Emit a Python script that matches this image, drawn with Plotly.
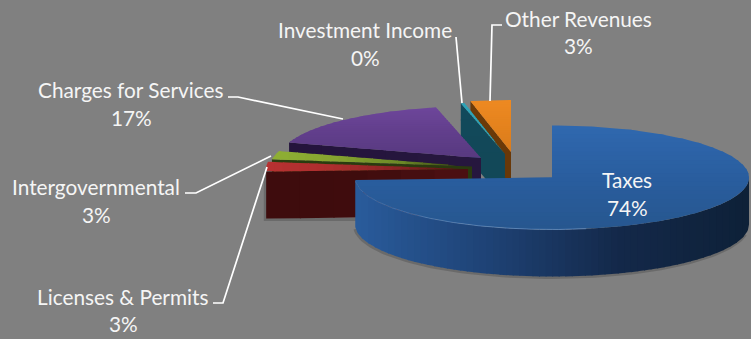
import numpy as np
import plotly.graph_objects as go

# Revenue shares in percent
categories = ["Taxes", "Licenses & Permits", "Intergovernmental",
              "Charges for Services", "Investment Income", "Other Revenues"]
shares = [74.2, 3.0, 2.6, 16.6, 0.3, 3.3]

# Pixel frame and pie proportions
WIDTH, HEIGHT = 751, 339
RY, DEPTH = 52, 47

# Horizontal radius of each slice
radii = {
    "Taxes": 197,
    "Licenses & Permits": 202,
    "Intergovernmental": 202,
    "Charges for Services": 201,
    "Investment Income": 197,
    "Other Revenues": 197,
}

# Exploded position of each slice's tip
tips = {
    "Taxes": (552, 177.5),
    "Licenses & Permits": (468, 169),
    "Intergovernmental": (472, 166.5),
    "Charges for Services": (481, 158),
    "Investment Income": (505, 154),
    "Other Revenues": (511, 152),
}

# Colour ramps: top face (axis, stops), cut face, outer wall
styles = {
    "Taxes": dict(top=("y", 125, 230, ["#3069b0", "#2a5e9f", "#27578f"]),
                  cut=("x", 0, 1, ["#000000", "#000000"]),
                  wall=("x", 355, 751, ["#2a5c9c", "#1f4376", "#14294a", "#0e2138"])),
    "Licenses & Permits": dict(top=("x", 267, 466, ["#b83232", "#ad2e2e", "#8a2424", "#4f1514"]),
                               cut=("x", 267, 470, ["#3e0c0d", "#400d0e", "#4e1013"]),
                               wall=("x", 260, 275, ["#3e0c0d", "#3e0c0d"])),
    "Intergovernmental": dict(top=("x", 270, 465, ["#8fb035", "#86a430", "#6d8a28", "#34400f"]),
                              cut=("x", 270, 461, ["#2a3d0f", "#2a3a10"]),
                              wall=("x", 260, 275, ["#2a3d0f", "#2a3d0f"])),
    "Charges for Services": dict(top=("y", 106, 158, ["#6f479c", "#623f8c", "#583a80"]),
                                 cut=("x", 289, 481, ["#24143c", "#27183f"]),
                                 wall=("x", 280, 300, ["#24143c", "#24143c"])),
    "Investment Income": dict(top=("y", 100, 155, ["#2ea3b8", "#2ea3b8"]),
                              cut=("y", 100, 180, ["#124a5c", "#134858"]),
                              wall=("x", 0, 1, ["#124a5c", "#124a5c"])),
    "Other Revenues": dict(top=("y", 100, 152, ["#ee8a22", "#e5831e", "#d97c1c"]),
                           cut=("y", 100, 180, ["#6d3b08", "#683808"]),
                           wall=("x", 0, 1, ["#6d3b08", "#6d3b08"])),
}

# Labels: centre of the name line and of the percent line
label_spots = {
    "Taxes": (627, 179, 207),
    "Licenses & Permits": (123, 296, 323),
    "Intergovernmental": (96, 186, 214),
    "Charges for Services": (131, 89, 117),
    "Investment Income": (365, 29, 57),
    "Other Revenues": (578, 18, 45),
}

# Leader lines from label to slice
leaders = [
    ([228, 238, 343], [97, 97, 119]),
    ([185, 196, 271], [193, 193, 156]),
    ([213, 223, 267], [303, 303, 167]),
    ([456, 462], [37, 103]),
    ([502, 492, 490], [25, 25, 101]),
]


def hex_rgb(code):
    return np.array([int(code[i:i + 2], 16) for i in (1, 3, 5)], dtype=float)


def ramp(stops, t):
    t = min(max(t, 0.0), 1.0) * (len(stops) - 1)
    i = min(int(t), len(stops) - 2)
    c = hex_rgb(stops[i]) * (1 - (t - i)) + hex_rgb(stops[i + 1]) * (t - i)
    return "rgb(%d,%d,%d)" % tuple(c)


def clip(points, axis, limit, keep_above):
    """Clip a polygon against one axis-aligned line."""
    out = []
    sign = 1 if keep_above else -1
    for j, p in enumerate(points):
        q = points[(j + 1) % len(points)]
        dp, dq = sign * (p[axis] - limit), sign * (q[axis] - limit)
        if dp >= 0:
            out.append(p)
        if dp * dq < 0:
            s = dp / (dp - dq)
            out.append((p[0] + s * (q[0] - p[0]), p[1] + s * (q[1] - p[1])))
    return out


def draw_polygon(fig, points, color):
    xs = [p[0] for p in points] + [points[0][0]]
    ys = [p[1] for p in points] + [points[0][1]]
    fig.add_trace(go.Scatter(x=xs, y=ys, mode="lines", fill="toself", fillcolor=color,
                             line=dict(width=0), hoverinfo="skip", showlegend=False))


def draw_gradient(fig, points, spec, bands=16):
    # Each band overlaps the next by a pixel so no seams show between them
    axis_name, lo, hi, stops = spec
    axis = 0 if axis_name == "x" else 1
    coords = [p[axis] for p in points]
    a, b = min(coords), max(coords)
    edges = np.linspace(a, b, bands + 1)
    for k in range(bands):
        upper = edges[k + 1] + 1 if k < bands - 1 else edges[k + 1]
        piece = clip(clip(points, axis, edges[k], True), axis, upper, False)
        if len(piece) >= 3:
            mid = (edges[k] + edges[k + 1]) / 2
            draw_polygon(fig, piece, ramp(stops, (mid - lo) / (hi - lo)))


def rim(name, deg):
    tip = tips[name]
    rad = np.radians(deg)
    return (tip[0] + radii[name] * np.sin(rad), tip[1] - RY * np.cos(rad))


# Angular extent of each slice, clockwise from twelve o'clock
total = sum(shares)
ends = np.cumsum(shares) / total * 360
starts = np.concatenate(([0.0], ends[:-1]))
extent = {name: (s, e) for name, s, e in zip(categories, starts, ends)}

fig = go.Figure()


def draw_slice(name):
    tip = tips[name]
    start, end = extent[name]
    style = styles[name]
    if name != "Taxes":
        p = rim(name, start)
        cut = [tip, p, (p[0], p[1] + DEPTH), (tip[0], tip[1] + DEPTH)]
        draw_gradient(fig, cut, style["cut"], bands=6)
    lo, hi = max(start, 90), min(end, 270)
    if hi > lo:
        arc = [rim(name, d) for d in np.linspace(lo, hi, 90)]
        wall = arc + [(x, y + DEPTH) for x, y in reversed(arc)]
        draw_gradient(fig, wall, style["wall"], bands=60 if name == "Taxes" else 2)
    top = [tip] + [rim(name, d) for d in np.linspace(start, end, 160)]
    draw_gradient(fig, top, style["top"], bands=24)


def draw_ground_shadow(xs, ys):
    fig.add_trace(go.Scatter(x=xs, y=ys, mode="lines", hoverinfo="skip", showlegend=False,
                             line=dict(color="rgba(55,55,55,0.30)", width=3)))


# Back slices first so that the ones in front overlap them
for name in ["Other Revenues", "Investment Income", "Charges for Services",
             "Intergovernmental"]:
    draw_slice(name)

# Soft contact shadow under the two front slices
lic_left = rim("Licenses & Permits", extent["Licenses & Permits"][0])
lic_tip = tips["Licenses & Permits"]
draw_ground_shadow([lic_left[0] - 1, lic_left[0] - 1, lic_tip[0]],
                   [lic_left[1], lic_left[1] + DEPTH + 1, lic_left[1] + DEPTH + 1])
low_rim = [rim("Taxes", d) for d in np.linspace(100, 266, 80)]
draw_ground_shadow([p[0] - 0.5 for p in low_rim], [p[1] + DEPTH + 1 for p in low_rim])

draw_slice("Licenses & Permits")
draw_slice("Taxes")

# Bevel highlight along the front-left rim of the large slice
for d0, alpha in zip(range(170, 266, 8), np.linspace(0.55, 0.25, 12)):
    seg = [rim("Taxes", d) for d in np.linspace(d0, d0 + 8, 6)]
    fig.add_trace(go.Scatter(x=[p[0] for p in seg], y=[p[1] for p in seg], mode="lines",
                             line=dict(color="rgba(125,170,225,%.2f)" % alpha, width=1),
                             hoverinfo="skip", showlegend=False))

for xs, ys in leaders:
    fig.add_trace(go.Scatter(x=xs, y=ys, mode="lines", line=dict(color="#ffffff", width=1.7),
                             hoverinfo="skip", showlegend=False))

for name, share in zip(categories, shares):
    cx, y_name, y_pct = label_spots[name]
    for text, y in ((name, y_name), ("%d%%" % round(share), y_pct)):
        fig.add_annotation(x=cx, y=y, text=text, showarrow=False, xanchor="center",
                           yanchor="middle",
                           font=dict(family="Lato", size=20.8, color="#f5f5f5"))

fig.update_layout(
    width=WIDTH, height=HEIGHT, margin=dict(l=0, r=0, t=0, b=0),
    paper_bgcolor="#808080", plot_bgcolor="#808080", showlegend=False,
    xaxis=dict(range=[0, WIDTH], visible=False, fixedrange=True),
    yaxis=dict(range=[HEIGHT, 0], visible=False, fixedrange=True),
)
fig.write_html("out.html", config=dict(displayModeBar=False))
